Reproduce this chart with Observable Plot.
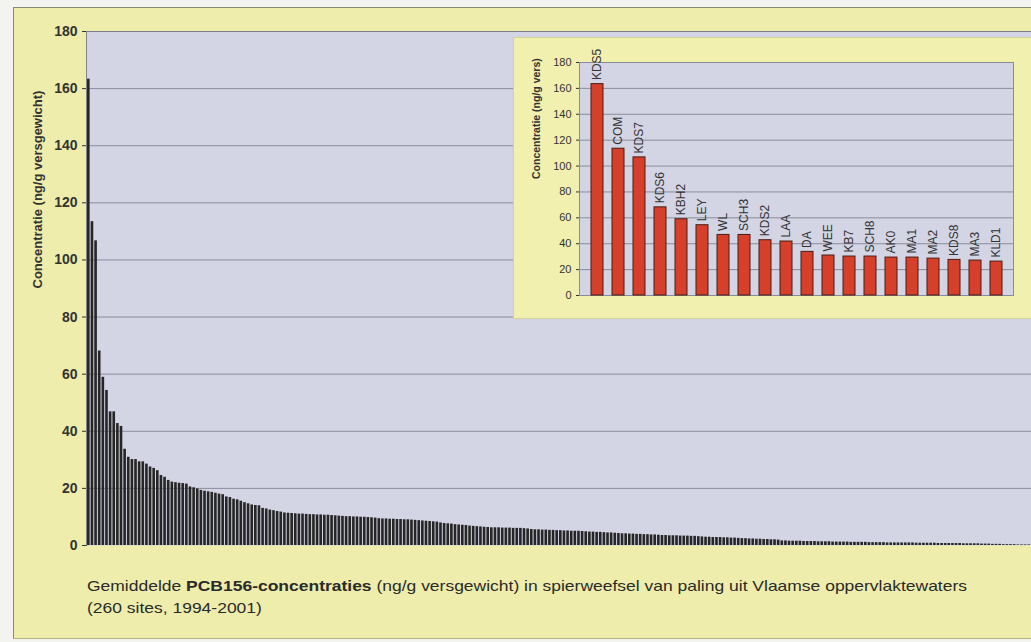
<!DOCTYPE html>
<html>
<head>
<meta charset="utf-8">
<script src="https://cdn.jsdelivr.net/npm/d3@7"></script>
<script src="https://cdn.jsdelivr.net/npm/@observablehq/plot@0.6"></script>
<style>
  html, body { margin: 0; padding: 0; background: #f3f3ef; }
  #wrap { position: relative; width: 1031px; height: 642px; overflow: hidden; font-family: "Liberation Sans", Arial, sans-serif; }
  #panel { position: absolute; left: 13px; top: 7px; width: 1040px; height: 630px; background: #eeedab; border-left: 1px solid #8a8a70; border-top: 1px solid #8a8a70; border-bottom: 1px solid #b5b48a; }
  #main { position: absolute; left: 0; top: 0; width: 1031px; }
  #inset { position: absolute; left: 513px; top: 37px; width: 532px; height: 280px; background: #f1f0ae; border: 1px solid #d3d19a; }
  #wrap svg { max-width: none !important; display: block; }
  #caption { position: absolute; left: 87px; top: 575px; font-size: 15px; color: #2a2a2a; line-height: 22px; white-space: nowrap; transform-origin: 0 0; }
</style>
</head>
<body>
<div id="wrap">
  <div id="panel"></div>
  <div id="main"></div>
  <div id="inset"></div>
  <div id="caption"><div id="line1">Gemiddelde <b>PCB156-concentraties</b> (ng/g versgewicht) in spierweefsel van paling uit Vlaamse oppervlaktewaters</div><div>(260 sites, 1994-2001)</div></div>
</div>
<script>
// ---- data ----
const insetSites = ["KDS5","COM","KDS7","KDS6","KBH2","LEY","WL","SCH3","KDS2","LAA","DA","WEE","KB7","SCH8","AK0","MA1","MA2","KDS8","MA3","KLD1"];
const insetValues = [163.3,113.4,106.7,68.1,58.9,54.3,46.8,46.8,42.7,41.7,33.7,30.9,30.1,30.1,29.3,29.3,28.5,27.5,27.0,26.2];

// remaining 240 sites (ranks 21-260)
const otherSiteValues = [
  24.5,23.9,22.8,22.2,22.0,21.8,21.7,21.5,20.5,20.2,19.8,19.3,19.0,18.8,18.6,18.3,18.0,17.8,17.0,16.8,
  16.2,16.0,15.5,15.0,14.6,14.2,14.0,13.9,13.0,12.8,12.4,12.2,11.9,11.7,11.4,11.3,11.2,
  11.1,11.0,11.0,10.9,10.8,
  10.8,10.7,10.7,10.6,10.6,10.5,10.4,10.3,
  10.2,10.1,10.1,10.0,10.0,9.9,9.9,9.8,9.7,9.6,
  9.4,9.3,9.3,9.2,9.2,9.1,9.1,9.0,9.0,8.9,
  8.8,8.7,8.6,8.5,8.4,8.3,8.2,
  7.9,7.7,7.6,7.5,7.3,7.2,7.1,7.0,
  6.8,6.7,6.6,6.5,6.4,6.3,6.2,
  6.2,6.2,6.1,6.1,6.1,6.0,6.0,6.0,5.9,5.8,
  5.6,5.5,5.5,5.4,5.4,5.3,5.3,5.2,5.2,5.1,5.1,5.0,5.0,5.0,4.9,
  4.8,4.7,4.7,4.6,4.6,4.5,4.4,4.4,4.3,4.2,
  4.1,4.1,4.0,4.0,3.9,3.9,3.8,3.8,3.7,3.7,3.6,
  3.5,3.5,3.4,3.4,3.4,3.3,3.3,3.3,3.2,3.2,3.1,3.0,
  2.9,2.9,2.8,2.8,2.8,2.7,2.7,2.6,2.6,
  2.5,2.4,2.4,2.3,2.3,2.2,2.2,2.1,2.1,2.0,2.0,1.9,
  1.6,1.6,1.5,1.5,1.5,1.5,1.4,1.4,1.4,1.4,1.3,1.3,1.3,1.3,1.2,1.2,1.2,
  1.2,1.2,1.1,1.1,1.1,1.1,1.1,1.0,1.0,1.0,1.0,1.0,0.9,0.9,0.9,0.9,0.9,
  0.9,0.9,0.9,0.8,0.8,0.8,0.8,0.8,0.8,0.7,0.7,0.7,0.7,0.7,0.7,0.7,0.6,0.6,0.6,0.6,0.6,
  0.5,0.5,0.5,0.4,0.4,0.4,0.3,0.3,0.3,0.3,
  0.2,0.2,0.2,0.2
];
const yTicks = [0,20,40,60,80,100,120,140,160,180];
const gridTicks = [20,40,60,80,100,120,140,160];
const mainYLabel = "Concentratie (ng/g versgewicht)";
const insetYLabel = "Concentratie (ng/g vers)";

// ---- build ----
const allValues = insetValues.concat(otherSiteValues);
const mainData = allValues.map((v, i) => ({rank: i, value: v}));
const insetData = insetSites.map((s, i) => ({site: s, value: insetValues[i]}));

const lavender = "#d3d4e4";
const gridColor = "#8b8c9c";

const main = Plot.plot({
  width: 1031,
  height: 630,
  marginLeft: 86,
  marginRight: 0,
  marginTop: 31,
  marginBottom: 85,
  style: {background: "transparent", fontFamily: "Liberation Sans, Arial, sans-serif", fontWeight: "bold", fontSize: "14px", color: "#333"},
  x: {type: "band", domain: d3.range(allValues.length), padding: 0.28, axis: null},
  y: {domain: [0, 180], ticks: yTicks, tickSize: 4, tickPadding: 5, label: null, line: true},
  marks: [
    Plot.frame({fill: lavender}),
    Plot.gridY(gridTicks, {stroke: gridColor, strokeOpacity: 1, strokeWidth: 1}),
    Plot.ruleY([180], {stroke: "#7d7e8c"}),
    Plot.barY(mainData, {x: "rank", y: "value", fill: "#262626"}),
    Plot.text([mainYLabel], {frameAnchor: "left", dx: -49, rotate: -90, fontSize: 13, fontWeight: "bold", fill: "#333"})
  ]
});
document.getElementById("main").appendChild(main);

const inset = Plot.plot({
  width: 532,
  height: 280,
  marginLeft: 65,
  marginRight: 33,
  marginTop: 24,
  marginBottom: 23,
  style: {background: "transparent", fontFamily: "Liberation Sans, Arial, sans-serif", fontSize: "11px", color: "#333"},
  x: {type: "band", domain: insetSites, padding: 0.45, axis: null},
  y: {domain: [0, 180], ticks: yTicks, tickSize: 3, tickPadding: 5, label: null, line: true},
  marks: [
    Plot.frame({fill: lavender, stroke: "#8a8b98"}),
    Plot.gridY(gridTicks, {stroke: gridColor, strokeOpacity: 1}),
    Plot.barY(insetData, {x: "site", y: "value", fill: "#d6402a", stroke: "#4a1c12", strokeWidth: 1}),
    Plot.text(insetData, {x: "site", y: "value", text: "site", rotate: -90, textAnchor: "start", dy: -4, fontSize: 12, fill: "#333"}),
    Plot.text([insetYLabel], {frameAnchor: "left", dx: -43, rotate: -90, fontSize: 10.5, fontWeight: "bold", fill: "#333"})
  ]
});
document.getElementById("inset").appendChild(inset);

// fit caption width to the reference (first line ~880px wide)
const cap = document.getElementById("caption");
const l1 = document.getElementById("line1");
const w = l1.getBoundingClientRect().width;
cap.style.transform = `scaleX(${880 / w})`;
</script>
</body>
</html>
